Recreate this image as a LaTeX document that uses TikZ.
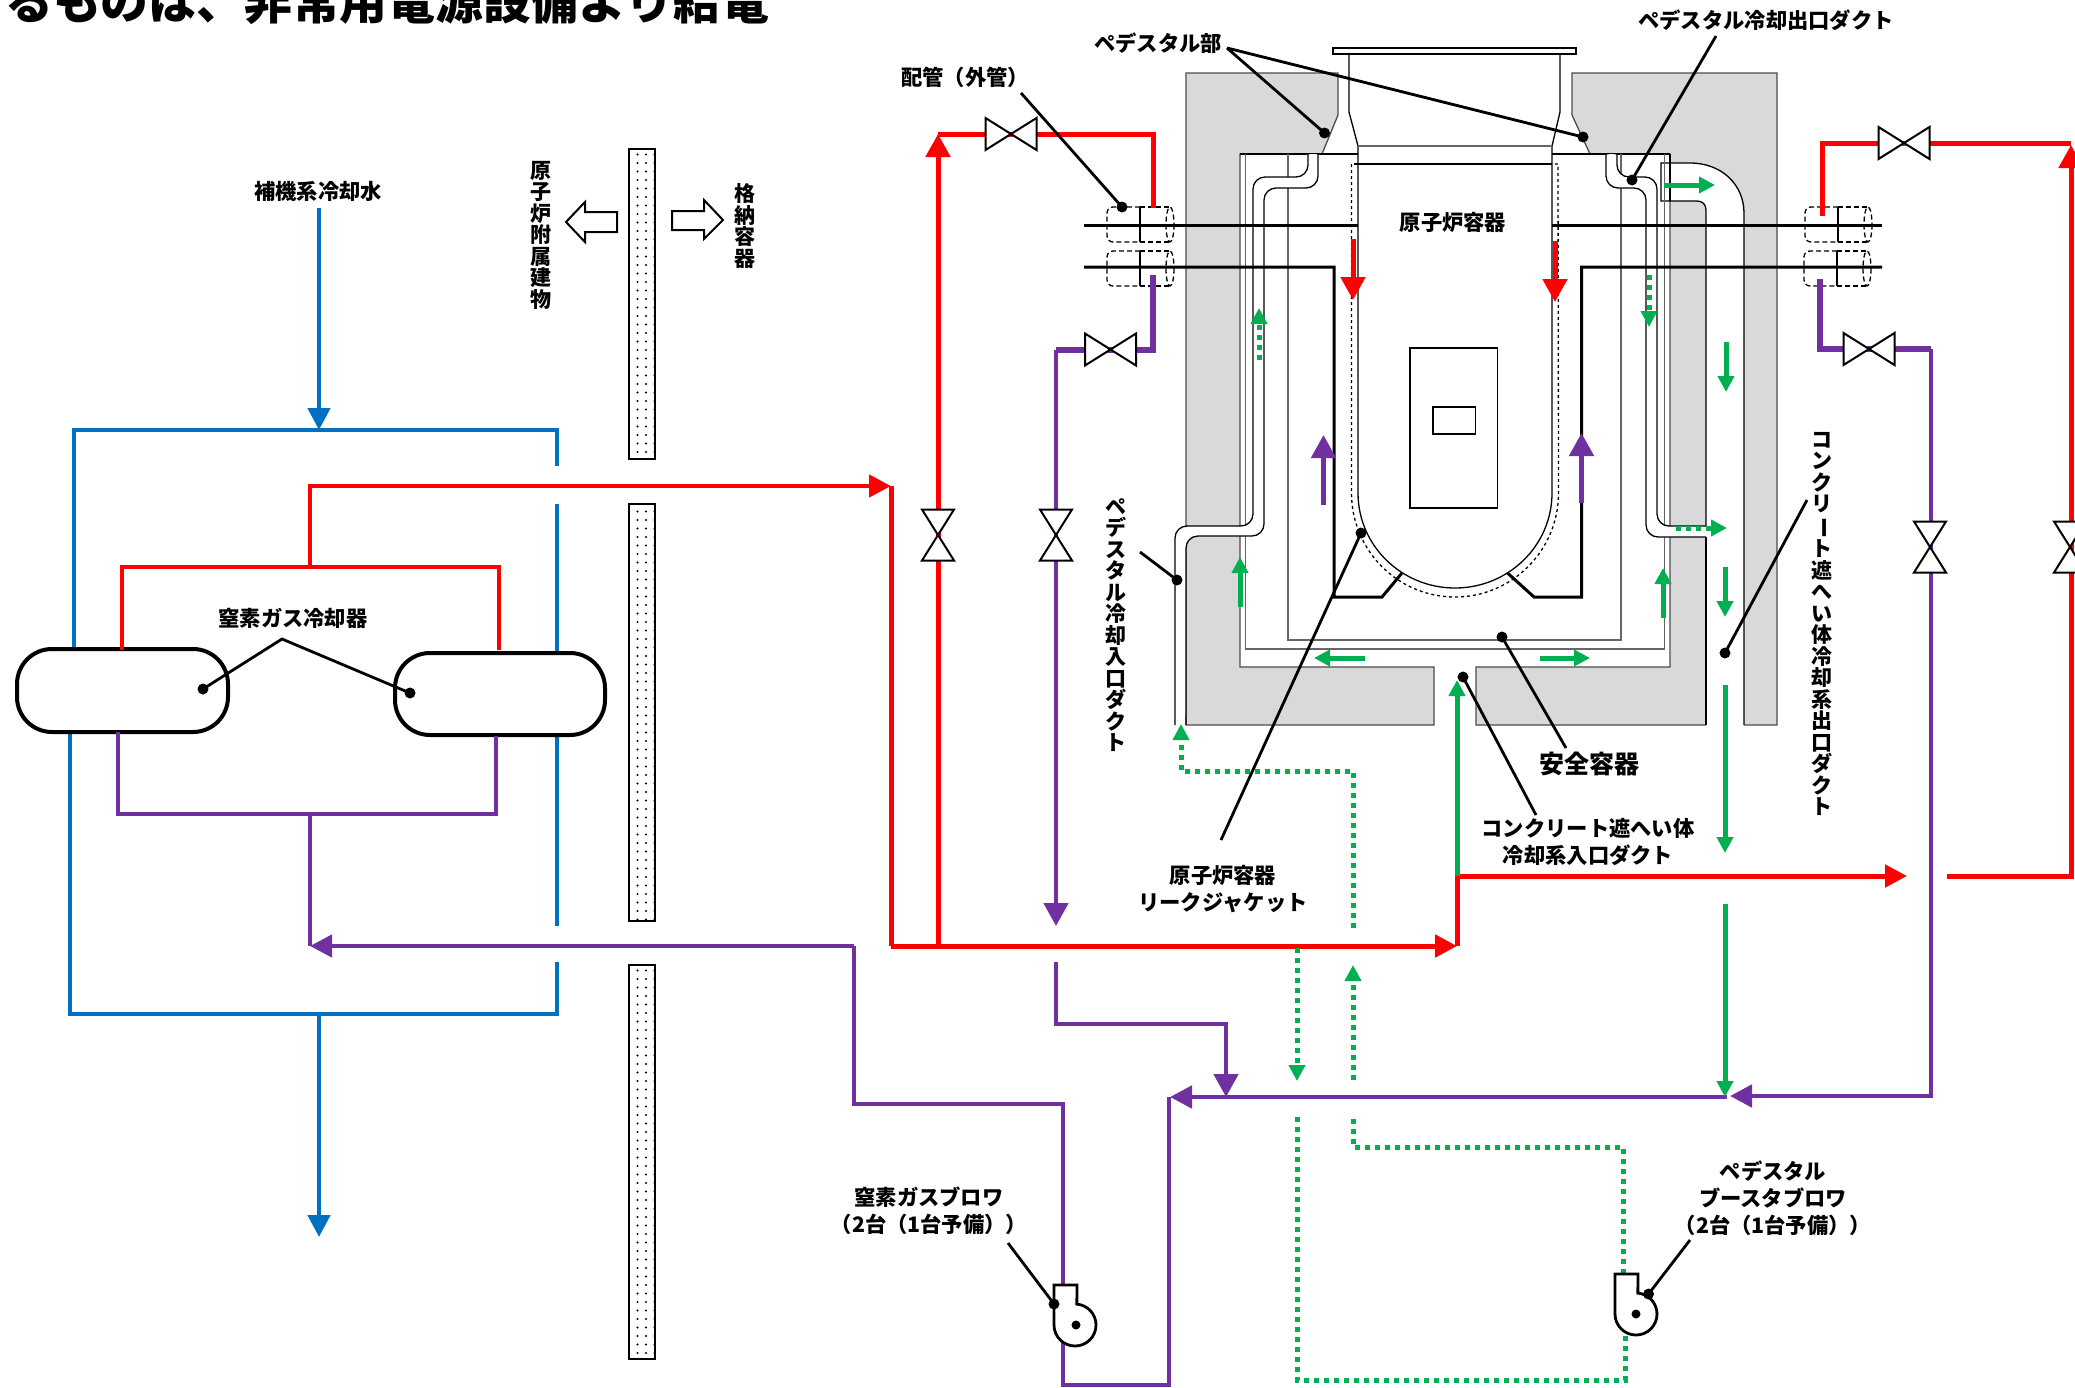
\documentclass[tikz,border=0pt]{standalone}
\usepackage{fontspec}
\usepackage{graphicx}
\usetikzlibrary{arrows.meta,patterns.meta}
\newfontfamily\cjk{Noto Sans CJK JP}[BoldFont={Noto Sans CJK JP Black}]
\newcommand{\vlong}{\rotatebox[origin=c]{-90}{ー}}
\definecolor{pblue}{HTML}{0070C0}
\definecolor{pred}{HTML}{FF0000}
\definecolor{ppur}{HTML}{7030A0}
\definecolor{pgrn}{HTML}{00B050}
\definecolor{conc}{HTML}{D9D9D9}
\tikzset{
 lab/.style={inner sep=0pt,align=center,text=black,font=\cjk\bfseries\fontsize{21.3}{27}\selectfont},
 vlab/.style={inner sep=0pt,align=center,text=black,font=\cjk\bfseries\fontsize{21}{21.5}\selectfont},
 thin line/.style={line width=1.3pt,draw=black},
 grey line/.style={line width=1.7pt,draw=black!60},
 concrete/.style={fill=conc,draw=black!70,line width=1.3pt},
 blackpipe/.style={line width=3pt,draw=black},
 bluep/.style={line width=4.6pt,draw=pblue},
 redp/.style={line width=5pt,draw=pred},
 purp/.style={line width=4.8pt,draw=ppur},
 grnp/.style={line width=5pt,draw=pgrn},
 grnd/.style={line width=5pt,draw=pgrn,dash pattern=on 5pt off 5pt},
 headL/.style={-{Triangle[width=22pt,length=22pt]}},
 headM/.style={-{Triangle[width=16pt,length=16pt]}},
 headB/.style={-{Triangle[width=24pt,length=23pt]}},
 lead/.style={line width=2.8pt,draw=black},
 wallbox/.style={draw=black,line width=1.5pt,pattern={Dots[distance=8.5pt,radius=1.2pt]}},
 hollow/.style={fill=white,draw=black,line width=2pt},
 cooler/.style={draw=black,line width=4pt,fill=white,rounded corners=35pt},
 hvalve/.pic={\draw[fill=white,line width=2pt,draw=black] (-25.5,-16)--(25.5,16)--(25.5,-16)--(-25.5,16)--cycle;},
 vvalve/.pic={\draw[fill=white,line width=2pt,draw=black] (-16,-25.5)--(16,25.5)--(-16,25.5)--(16,-25.5)--cycle;},
 sleeve/.pic={
  \draw[dash pattern=on 5pt off 3pt,line width=1.3pt,rounded corners=6pt] (0,-17.5)--(-33,-17.5)--(-33,17.5)--(0,17.5);
  \draw[dash pattern=on 5pt off 3pt,line width=1.3pt] (0,-17.5)--(30,-17.5) (0,17.5)--(30,17.5);
  \draw[dash pattern=on 5pt off 3pt,line width=1.3pt] (30,0) ellipse[x radius=4,y radius=17.5];
  \draw[line width=1.2pt] (0,-17.5)--(0,17.5);},
 blowerp/.pic={
  \draw[fill=white,draw=black,line width=2.8pt] (-21,-40)--(-21,0) arc[start angle=180,end angle=-85,radius=21] --(2,-40)--cycle;},
}
\begin{document}
\begin{tikzpicture}[x=1pt,y=-1pt]
\useasboundingbox (0,0) rectangle (2075,1387);
\fill[white] (0,0) rectangle (2075,1387);
% title, cropped by the page edge
\node[anchor=base west,inner sep=0pt,font=\cjk\bfseries\fontsize{47.8}{50}\selectfont] (title) at (5,19) {るものは、非常用電源設備より給電};

% walls
\draw[wallbox] (629,149) rectangle (655,459);
\draw[wallbox] (629,504) rectangle (655,921);
\draw[wallbox] (629,965) rectangle (655,1359);
\draw[hollow] (566,222)--(585,202)--(585,212)--(617,212)--(617,232)--(585,232)--(585,242)--cycle;
\draw[hollow] (723,220)--(704,200)--(704,211)--(672,211)--(672,230)--(704,230)--(704,239)--cycle;

% concrete
\draw[concrete] (1186,73)--(1338,73)--(1338,115)--(1322,154)--(1240,154)--(1240,667)--(1434,667)--(1434,725)--(1186,725)--cycle;
\draw[concrete] (1572,73)--(1777,73)--(1777,725)--(1476,725)--(1476,667)--(1670,667)--(1670,154)--(1590,154)--(1572,115)--cycle;
% outlet elbow duct through the concrete
\fill[white] (1661,163)--(1690,163) .. controls (1722,163) and (1744,185) .. (1744,213)--(1744,726.5)--(1706,726.5)--(1706,210) .. controls (1706,204) and (1702,201) .. (1697,201)--(1661,201)--cycle;
\fill[white] (1664,526)--(1707,526)--(1707,537)--(1664,537)--cycle;
\fill[white] (1664,154)--(1670,154)--(1670,201)--(1664,201)--cycle;
\draw[thin line] (1697,201)--(1661,201)--(1661,163)--(1690,163) .. controls (1722,163) and (1744,185) .. (1744,213)--(1744,725);
\draw[thin line] (1697,201) .. controls (1702,201) and (1706,204) .. (1706,210)--(1706,526);
\draw[thin line] (1706,537)--(1706,725);
\draw[thin line] (1670,201)--(1670,154);

% pedestal neck and vessel
\draw[thin line] (1333,48) rectangle (1576,54);
\draw[thin line] (1349,54)--(1349,112)--(1358,146)--(1358,493);
\draw[thin line] (1560,54)--(1560,112)--(1552,146)--(1552,493);
\draw[grey line] (1358,146)--(1552,146);
\draw[thin line] (1240,154)--(1358,154);
\draw[thin line] (1552,154)--(1670,154);
\draw[thin line] (1354,164)--(1552,164);
\draw[thin line] (1358,493) arc[start angle=180,end angle=0,x radius=97,y radius=95];
\draw[thin line,dashed] (1351.5,164)--(1351.5,493) arc[start angle=180,end angle=0,x radius=103.5,y radius=104]--(1558,164)--(1552,164);
\draw[thin line] (1410,348) rectangle (1497.5,508);
\draw[thin line] (1433,407) rectangle (1475.5,434);

% containment lines
\draw[grey line] (1245.5,154)--(1245.5,649)--(1664.5,649)--(1664.5,154);
\draw[grey line] (1288,154)--(1288,640)--(1621,640)--(1621,154);

% inlet duct
\fill[white,rounded corners=12pt] (1308,154)--(1308,177)--(1253,177)--(1253,526)--(1175,526)--(1175,725)--(1186,725)--(1186,536)--(1264,536)--(1264,188)--(1318,188)--(1318,154)--cycle;
\draw[thin line,rounded corners=12pt] (1308,154)--(1308,177)--(1253,177)--(1253,526)--(1175,526)--(1175,725);
\draw[thin line,rounded corners=12pt] (1318,154)--(1318,188)--(1264,188)--(1264,536)--(1186,536)--(1186,725);
% outlet duct
\fill[white,rounded corners=12pt] (1606,154)--(1606,188)--(1646,188)--(1646,537)--(1707,537)--(1707,526)--(1657,526)--(1657,177)--(1617,177)--(1617,154)--cycle;
\draw[thin line,rounded corners=12pt] (1606,154)--(1606,188)--(1646,188)--(1646,537)--(1706,537);
\draw[thin line,rounded corners=12pt] (1617,154)--(1617,177)--(1657,177)--(1657,526)--(1706,526);

% cooling air lines
\draw[blackpipe] (1084,225)--(1358,225);
\draw[blackpipe] (1552,225)--(1882,225);
\draw[blackpipe] (1084,267)--(1334,267)--(1334,597)--(1382,597)--(1402,573);
\draw[blackpipe] (1882,267)--(1581.5,267)--(1581.5,597)--(1534,597)--(1507.5,573);
\pic at (1140,224.5) {sleeve};
\pic at (1140,268.5) {sleeve};
\pic at (1838,224.5) {sleeve};
\pic at (1837,268.5) {sleeve};

% blue
\coordinate (bs) at (319,208);
\coordinate (be) at (319,1237);
\draw[bluep,headL] (bs)--(319,430);
\draw[bluep] (74,650)--(74,430)--(557,430)--(557,466);
\draw[bluep] (557,504)--(557,654);
\draw[bluep] (557,735)--(557,926);
\draw[bluep] (557,962)--(557,1014)--(70,1014)--(70,732);
\draw[bluep,headL] (319,1014)--(be);

% coolers
\node[cooler,minimum width=211pt,minimum height=83pt,inner sep=0pt] (cl) at (122.5,690.5) {};
\node[cooler,minimum width=210pt,minimum height=82pt,inner sep=0pt] (cr) at (500,694) {};

% red
\draw[redp,line width=4.4pt] (122,650)--(122,567)--(499,567)--(499,650);
\draw[redp,line width=4.4pt,headL] (310,567)--(310,486)--(891,486);
\draw[redp] (891,486)--(891,946);
\draw[redp,headL] (891,946)--(1457,946);
\draw[redp,headB] (938,946)--(938,134);
\draw[redp] (938,134)--(1153,134)--(1153,208);
\draw[redp,headL] (1457,946)--(1457,876)--(1907,876);
\draw[redp] (1947,876)--(2071,876)--(2071,168);
\draw[redp,headB] (2071,170)--(2071,145);
\draw[redp] (2071,143)--(1822,143)--(1822,216);
\pic at (938,535) {vvalve};
\pic at (1011,134) {hvalve};
\pic at (1904,143) {hvalve};
\pic at (2070,547) {vvalve};

% purple
\draw[purp,line width=4.4pt] (118,732)--(118,814)--(496,814)--(496,736);
\draw[purp,line width=4.4pt] (310,814)--(310,946);
\draw[purp,line width=4.4pt,headL] (854,946)--(310,946);
\draw[purp,line width=4pt] (854,946)--(854,1104)--(1063,1104)--(1063,1385)--(1169,1385)--(1169,1097);
\draw[purp,headL] (1727,1097)--(1170,1097);
\draw[purp,headL] (1931,349)--(1931,1096)--(1730,1096);
\draw[purp,line width=5.5pt] (1931,349)--(1820,349)--(1820,279);
\draw[purp,line width=5.5pt] (1153,275)--(1153,350)--(1056,350);
\draw[purp,headB] (1056,350)--(1056,926);
\draw[purp,headB] (1056,962)--(1056,1024)--(1226,1024)--(1226,1097);
\pic at (1110.5,349.5) {hvalve};
\pic at (1056,535) {vvalve};
\pic at (1869,349) {hvalve};
\pic at (1930,547) {vvalve};
\draw[purp,-{Triangle[width=24pt,length=23pt]}] (1323.5,505)--(1323.5,435);
\draw[purp,-{Triangle[width=24pt,length=23pt]}] (1581.5,503)--(1581.5,433);

% inner red arrows
\draw[redp,headB] (1353,239)--(1353,300);
\draw[redp,headB] (1555,241)--(1555,302);

% solid green
\draw[grnp,headM] (1457,876)--(1457,680);
\draw[grnp,headM] (1726,342)--(1726,392);
\draw[grnp,headM] (1725,567)--(1725,617);
\draw[grnp,headM] (1725,685)--(1725,853);
\draw[grnp,headM] (1725,904)--(1725,1097);
\draw[grnp,headM] (1664,185)--(1715,185);
\draw[grnp,headM] (1240,607)--(1240,557);
\draw[grnp,headM] (1663,618)--(1663,568);
\draw[grnp,headM] (1365,658)--(1314,658);
\draw[grnp,headM] (1540,658)--(1590,658);

% dotted green
\draw[grnd,headM] (1649,275)--(1649,327);
\draw[grnd,headM] (1259,360)--(1259,308);
\draw[grnd,headM] (1676,528)--(1727,528);
\draw[grnd,headM] (1353,928)--(1353,771)--(1181,771)--(1181,724);
\draw[grnd,headM] (1297,948)--(1297,1081);
\draw[grnd,headM] (1353,1080)--(1353,965);
\draw[grnd] (1297,1117)--(1297,1380)--(1625,1380)--(1625,1333);
\draw[grnd] (1623,1274)--(1623,1147)--(1353,1147)--(1353,1117);

% blowers
\pic at (1075,1325) {blowerp};
\pic at (1636,1314) {blowerp};
\fill (1076,1325) circle[radius=4.5] coordinate (blc);
\fill (1636,1314) circle[radius=4.5] coordinate (brc);

% labels
\node[lab] (hoki) at (318,191) {補機系冷却水};
\node[lab] (chisoc) at (293,618) {窒素ガス冷却器};
\node[lab] (pedb) at (1158,43) {ペデスタル部};
\node[lab] (haikan) at (965,77) {配管（外管）};
\node[lab] (pedo) at (1766,20) {ペデスタル冷却出口ダクト};
\node[lab] (rpv) at (1453,222) {原子炉容器};
\node[lab,font=\cjk\bfseries\fontsize{25}{27}\selectfont] (anzen) at (1589,764) {安全容器};
\node[lab] (conin) at (1588,842) {コンクリート遮へい体\\冷却系入口ダクト};
\node[lab] (leak) at (1223,889) {原子炉容器\\リークジャケット};
\node[lab] (chisob) at (929,1211) {窒素ガスブロワ\\（2台（1台予備））};
\node[lab] (pedbl) at (1773,1198) {ペデスタル\\ブースタブロワ\\（2台（1台予備））};
\node[vlab] (fuzoku) at (541,235) {原\\子\\炉\\附\\属\\建\\物};
\node[vlab] (kakuno) at (745,226) {格\\納\\容\\器};
\node[vlab] (pedi) at (1116,625) {ペ\\デ\\ス\\タ\\ル\\冷\\却\\入\\口\\ダ\\ク\\ト};
\node[vlab] (cono) at (1822,624) {コ\\ン\\ク\\リ\\\vlong\\ト\\遮\\へ\\い\\体\\冷\\却\\系\\出\\口\\ダ\\ク\\ト};

% leader ends
\coordinate (a1) at (1227,48);
\coordinate (d1) at (1324.5,133);
\coordinate (d2) at (1583,137);
\coordinate (a2) at (1021,93);
\coordinate (d3) at (1122,207);
\coordinate (a3) at (1716,36);
\coordinate (d4) at (1632,180);
\coordinate (a4) at (1140,552);
\coordinate (d5) at (1177,580);
\coordinate (a5) at (1566,748);
\coordinate (d6) at (1502,637);
\coordinate (a6) at (1536,815);
\coordinate (d7) at (1463,677);
\coordinate (a7) at (1221,840);
\coordinate (d8) at (1361,533);
\coordinate (a8) at (282,639);
\coordinate (d9) at (203,689);
\coordinate (d10) at (410,693);
\coordinate (a9) at (1008,1243);
\coordinate (d11) at (1054,1304);
\coordinate (a10) at (1690,1240);
\coordinate (d12) at (1648.5,1294);
\coordinate (a11) at (1807,500);
\coordinate (d13) at (1725,653);
\draw[lead] (a1)--(d1);
\draw[lead] (a1)--(d2);
\draw[lead] (a2)--(d3);
\draw[lead] (a3)--(d4);
\draw[lead] (a4)--(d5);
\draw[lead] (a5)--(d6);
\draw[lead] (a6)--(d7);
\draw[lead] (a7)--(d8);
\draw[lead] (d9)--(a8)--(d10);
\draw[lead] (a9)--(d11);
\draw[lead] (a10)--(d12);
\draw[lead] (a11)--(d13);
\foreach \d in {d1,d2,d3,d4,d5,d6,d7,d8,d9,d10,d11,d12,d13} \fill (\d) circle[radius=5.5];
\end{tikzpicture}
\end{document}
